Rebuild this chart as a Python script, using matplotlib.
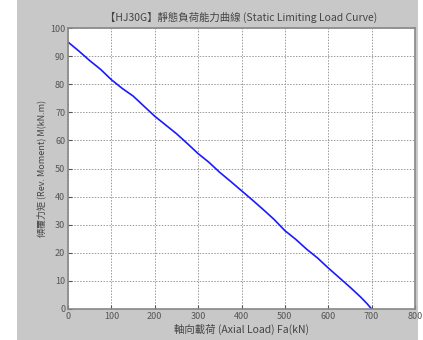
import matplotlib
matplotlib.use("Agg")
import matplotlib.pyplot as plt
from matplotlib.patches import Rectangle

plt.rcParams['font.family'] = ['Noto Sans CJK TC', 'DejaVu Sans']

# axial load (kN) vs overturning moment (kN.m)
axial_load = [0, 25, 50, 75, 100, 125, 150, 175, 200, 225, 250, 275, 300,
              325, 350, 375, 400, 425, 450, 475, 500, 525, 550, 575, 600,
              625, 650, 675, 690, 700]
moment = [95, 91.8, 88.4, 85.3, 81.6, 78.5, 75.8, 72.2, 68.6, 65.5, 62.4,
          58.9, 55.3, 52.2, 48.6, 45.4, 42.1, 38.8, 35.4, 31.9, 27.9, 24.8,
          21.3, 18.2, 14.6, 11.2, 7.8, 4.2, 1.8, 0]

x_ticks = [0, 100, 200, 300, 400, 500, 600, 700, 800]
y_ticks = [0, 10, 20, 30, 40, 50, 60, 70, 80, 90, 100]

title = "【HJ30G】靜態負荷能力曲線 (Static Limiting Load Curve)"
xlabel = "軸向載荷 (Axial Load) Fa(kN)"
ylabel = "傾覆力矩 (Rev. Moment) M(kN.m)"

fig = plt.figure(figsize=(4.23, 3.40), dpi=100)
fig.patch.set_facecolor('white')
fig.patches.append(Rectangle((17 / 423, 0), 401 / 423, 1, transform=fig.transFigure,
                             facecolor='#c8c8c8', edgecolor='none', zorder=-10))

ax = fig.add_axes([68 / 423, 1 - 309 / 340, 347 / 423, 281 / 340])
ax.set_facecolor('white')
ax.plot(axial_load, moment, color='#1a1aff', lw=1.2)

ax.set_xlim(0, 800)
ax.set_ylim(0, 100)
ax.set_xticks(x_ticks)
ax.set_yticks(y_ticks)
ax.tick_params(direction='in', labelsize=6.5, length=3, colors='#555555',
               labelcolor='#555555', pad=2)
ax.grid(True, color='#9a9a9a', linestyle=(0, (1.5, 1.5)), lw=0.7)
for s in ax.spines.values():
    s.set_color('#888888')
    s.set_linewidth(1.2)

ax.set_title(title, fontsize=7.5, color='#444444', pad=5)
ax.set_xlabel(xlabel, fontsize=7.5, color='#444444', labelpad=2)
ax.set_ylabel(ylabel, fontsize=6.5, color='#444444', labelpad=3)

fig.savefig('out.png', dpi=100)
